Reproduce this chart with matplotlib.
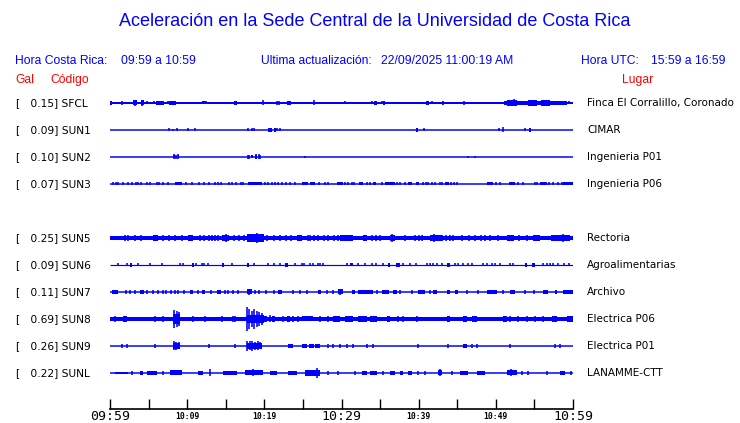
import matplotlib

matplotlib.use("Agg")
import matplotlib.pyplot as plt

W, H = 740, 423
BLUE = "#0000ff"
RED = "#ff0000"

# station table (row 4 is an empty slot, SUN4 is not shown)
codes = ["SFCL", "SUN1", "SUN2", "SUN3", "SUN5", "SUN6", "SUN7", "SUN8", "SUN9", "SUNL"]
gal = [0.15, 0.09, 0.10, 0.07, 0.25, 0.09, 0.11, 0.69, 0.26, 0.22]
places = ["Finca El Corralillo, Coronado", "CIMAR", "Ingenieria P01", "Ingenieria P06",
          "Rectoria", "Agroalimentarias", "Archivo", "Electrica P06", "Electrica P01",
          "LANAMME-CTT"]
rows = [0, 1, 2, 3, 5, 6, 7, 8, 9, 10]

# time axis, minutes after 09:59
tick_minutes = list(range(0, 61, 5))
tick_labels = ["09:59", "", "10:09", "", "10:19", "", "10:29", "", "10:39", "", "10:49", "", "10:59"]
big_labels = ["09:59", "10:29", "10:59"]

# trace sketches: base line width (px),
# bursts (t0, t1, half amplitude px), single spikes (t, half amplitude px)
base_px = [2, 1.5, 1.5, 1.5, 4, 1.2, 1.5, 4, 1.5, 1.5]

SFCL_bands = [(0, 0.3, 2), (3.0, 3.5, 2.5), (4.0, 4.4, 2.5), (6.0, 7.0, 1.8), (7.7, 8.5, 1.8),
              (11.9, 12.5, 1.5), (16.1, 16.4, 1.8), (23.0, 23.5, 1.8), (34.2, 34.6, 1.8),
              (35.4, 35.7, 1.8), (40.9, 41.4, 2), (43.0, 43.2, 1.8), (51.1, 59.2, 2),
              (51.4, 52.7, 3), (54.2, 55.3, 3), (55.9, 57.0, 3)]
SFCL_spikes = [(0.13, 2), (1.52, 2), (3.24, 3), (4.19, 3), (4.75, 1.5), (5.7, 1.5), (7.48, 1.5),
               (8.94, 1), (10.15, 1), (12.0, 1.5), (12.4, 1.5), (12.74, 1), (14.8, 1), (16.2, 2),
               (19.8, 2.5), (21.7, 2), (21.9, 2), (26.5, 2.5), (30.5, 1.5), (31.3, 1), (34.0, 1.5),
               (35.2, 1.5), (40.1, 1), (41.7, 1.5), (43.1, 2), (45.9, 2), (52.3, 3.5), (55.0, 3),
               (56.9, 3), (59.5, 1.5)]

SUN1_bands = [(20.5, 20.95, 2), (21.3, 21.5, 1.8), (39.6, 39.9, 1.8), (54.3, 54.5, 1.8)]
SUN1_spikes = [(7.68, 1.5), (8.2, 1), (8.72, 1.5), (10.15, 1.5), (11.05, 1.5), (17.84, 1.5),
               (18.36, 1.5), (18.7, 1.5), (21.38, 1.5), (21.68, 1.5), (22.07, 1.5), (39.74, 1.5),
               (40.73, 1.5), (50.37, 1.5), (50.89, 2.5), (53.8, 1.5), (54.39, 1.5)]

SUN2_bands = [(8.2, 8.4, 1.5), (8.8, 8.95, 1.5), (18.3, 18.5, 1.5), (18.8, 19.0, 1.8), (19.3, 19.5, 1.5)]
SUN2_spikes = [(8.29, 2.5), (8.51, 2), (8.85, 2.5), (17.84, 2), (18.05, 2), (18.36, 1.5), (18.88, 2.5),
               (19.31, 2.5), (19.48, 2), (25.27, 1), (46.43, 1), (47.34, 1)]

SUN3_bands = [(8.42, 9.37, 1.5), (17.92, 19.66, 1.5), (24.84, 25.7, 1.5), (25.92, 26.57, 1.5),
              (29.37, 30.15, 1.5), (32.31, 32.83, 1.5), (34.04, 34.47, 1.5), (35.64, 36.93, 1.5),
              (38.57, 39.17, 1.5), (39.65, 40.08, 1.5), (43.41, 43.93, 1.5), (48.82, 49.6, 1.5),
              (51.75, 52.49, 1.5), (55.73, 56.6, 1.5), (58.76, 60, 1.5)]
SUN3_blips = [0.43, 0.78, 1.08, 1.72, 2.29, 2.81, 3.33, 3.67, 4.02, 4.75, 5.18, 6.05, 6.35, 6.91, 7.56,
              9.81, 10.58, 11.53, 12.18, 12.83, 13.6, 13.96, 14.38, 15.42, 15.85, 16.33, 16.97, 17.27,
              20.09, 20.51, 20.95, 21.38, 21.74, 22.25, 22.81, 23.33, 23.97, 27.13, 27.86, 28.2, 30.45,
              30.88, 31.32, 31.62, 33.26, 33.69, 35.21, 37.15, 37.57, 38.22, 40.6, 40.91, 41.26, 41.69,
              42.11, 42.76, 42.98, 44.19, 44.62, 45.01, 50.02, 50.54, 52.92, 53.57, 55.08, 55.3, 56.94,
              57.46, 58.11, 58.55]
SUN3_spikes = [(t, 1.5) for t in SUN3_blips]

SUN5_bands = [(5.6, 6.2, 3), (10.15, 10.8, 3), (14.47, 15.42, 3), (17.7, 19.9, 4), (24.2, 24.84, 3),
              (29.8, 31.5, 3), (32.8, 33.3, 3), (36.3, 36.9, 3), (41.5, 43.1, 3), (51.4, 52.3, 3),
              (54.8, 55.7, 3), (57.2, 59.6, 2.8)]
SUN5_blips = [1.94, 2.37, 3.2, 4.0, 6.9, 7.6, 8.42, 9.3, 11.6, 12.2, 12.8, 13.2, 13.6, 14.0, 16.1,
              16.7, 17.4, 20.4, 21.2, 22.0, 22.8, 23.5, 25.6, 25.9, 26.5, 26.9, 27.7, 28.2, 29.0, 29.6,
              33.9, 34.5, 35.0, 38.2, 39.5, 40.0, 40.4, 43.6, 44.1, 44.5, 45.6, 46.5, 47.3, 48.1, 48.6,
              49.2, 50.3, 53.0, 54.1]
SUN5_spikes = [(t, 3) for t in SUN5_blips] + [(19.0, 5), (18.3, 4), (15.0, 4), (36.5, 4), (42.0, 4),
                                             (58.7, 4)]

SUN6_bands = [(2.6, 2.85, 1.8), (10.58, 10.93, 1.8), (14.55, 14.8, 1.8), (17.8, 18.0, 1.8),
              (22.68, 23.11, 1.8), (31.1, 31.54, 1.5), (36.07, 36.29, 1.8), (37.06, 37.58, 1.8),
              (43.63, 44.06, 1.8), (53.78, 54.0, 2), (54.64, 55.08, 1.8)]
SUN6_blips = [1.0, 2.16, 3.67, 5.18, 6.7, 9.07, 9.5, 11.1, 11.88, 12.22, 12.66, 15.85, 18.66, 20.51,
              21.29, 22.03, 23.97, 24.84, 25.18, 25.92, 26.35, 26.92, 27.22, 27.65, 30.67, 32.18, 33.04,
              33.91, 34.47, 35.33, 38.0, 38.87, 39.6, 41.04, 41.47, 41.9, 42.41, 42.98, 44.71, 45.14,
              45.79, 46.43, 46.87, 48.38, 48.82, 49.46, 49.89, 50.54, 51.84, 52.27, 56.15, 56.59, 57.02,
              57.45, 58.1, 58.85, 59.45]
SUN6_spikes = [(t, 1.5) for t in SUN6_blips]

SUN7_bands = [(0.2, 1.08, 1.8), (3.89, 4.45, 1.8), (10.37, 10.8, 1.8), (11.96, 12.31, 1.8),
              (13.82, 14.39, 1.8), (17.71, 18.36, 2.5), (21.81, 22.33, 1.8), (26.9, 27.35, 1.8),
              (29.5, 30.15, 2.5), (31.32, 31.75, 1.8), (32.18, 34.12, 1.8), (35.2, 36.1, 1.8),
              (36.7, 37.15, 1.8), (39.96, 40.82, 1.8), (41.9, 42.33, 1.8), (43.63, 44.06, 1.8),
              (44.71, 45.14, 1.8), (48.8, 50.1, 1.8), (51.83, 52.49, 1.8), (56.07, 56.8, 1.8),
              (57.67, 57.89, 1.8), (58.67, 60, 1.8)]
SUN7_blips = [2.03, 2.59, 3.24, 4.75, 5.62, 6.18, 6.91, 7.26, 7.9, 8.42, 8.85, 9.63, 11.44, 13.09,
              14.9, 15.33, 15.98, 16.55, 18.79, 19.31, 20.22, 21.3, 23.76, 24.62, 25.49, 28.08, 28.94,
              34.6, 37.58, 39.1, 41.47, 46.22, 47.72, 50.97, 53.78, 54.95]
SUN7_spikes = [(t, 1.8) for t in SUN7_blips] + [(18.0, 3), (29.8, 3)]

SUN8_bands = [(1.72, 2.16, 3), (8.2, 9.07, 5), (17.7, 19.9, 4), (20.0, 20.3, 3), (20.95, 21.38, 3),
              (22.89, 23.33, 3), (24.84, 26.35, 2.5), (28.94, 29.8, 3), (30.45, 31.54, 3),
              (32.18, 33.26, 3), (33.7, 34.55, 3), (35.85, 36.28, 3), (43.63, 44.06, 3),
              (45.79, 46.22, 3), (46.87, 47.52, 3), (50.97, 51.4, 3), (57.24, 57.89, 3), (59.18, 60, 3)]
SUN8_blips = [0.65, 5.83, 6.91, 10.8, 12.31, 14.47, 15.98, 16.2, 22.46, 23.76, 24.4, 27.21, 28.3,
              37.36, 38.0, 39.74, 51.83, 52.9, 54.0, 55.07, 56.15]
SUN8_spikes = [(t, 3) for t in SUN8_blips] + [(8.29, 9), (8.64, 8), (8.98, 7), (17.8, 12), (18.05, 10),
                                             (18.36, 8), (18.66, 10), (19.0, 8), (19.35, 7), (19.66, 6),
                                             (20.7, 3.5)]

SUN9_bands = [(8.2, 9.07, 3), (17.7, 19.66, 3), (23.1, 23.76, 1.8), (24.84, 25.5, 1.8),
              (25.8, 26.4, 1.8), (26.6, 27.2, 1.8), (45.79, 46.22, 1.8)]
SUN9_blips = [1.52, 2.16, 5.83, 12.83, 16.2, 28.3, 28.94, 29.8, 30.67, 31.54, 33.26, 34.12, 39.96,
              43.84, 46.87, 47.52, 51.83, 57.67, 58.31]
SUN9_spikes = [(t, 1.8) for t in SUN9_blips] + [(8.3, 4.5), (8.6, 4), (8.95, 3.5), (17.8, 5), (18.1, 4.5),
                                               (18.4, 5), (18.8, 4), (19.2, 4.5), (19.5, 3.5)]

SUNL_bands = [(0.65, 2.37, 1.3), (3.89, 4.32, 1.8), (4.75, 6.05, 1.8), (7.78, 9.29, 2.5),
              (11.44, 12.1, 1.8), (14.68, 16.42, 1.8), (17.5, 19.87, 2.5), (20.73, 21.6, 1.8),
              (23.1, 24.2, 1.8), (25.27, 27.2, 2.8), (32.6, 33.26, 1.8), (33.7, 34.55, 1.8),
              (36.28, 36.93, 1.8), (37.58, 38.0, 1.8), (38.66, 39.1, 1.8), (42.54, 42.98, 2.5),
              (45.35, 46.43, 1.8), (47.52, 48.6, 1.8), (51.4, 52.7, 2.5), (58.31, 58.97, 1.8)]
SUNL_blips = [2.81, 6.91, 28.3, 29.58, 31.75, 35.41, 39.96, 40.82, 44.28, 53.35, 54.21, 56.58, 59.8]
SUNL_spikes = [(t, 1.8) for t in SUNL_blips] + [(13.0, 3.5), (26.78, 5), (18.5, 3.5), (42.7, 3.5),
                                               (52.0, 3.5)]

bands = [SFCL_bands, SUN1_bands, SUN2_bands, SUN3_bands, SUN5_bands, SUN6_bands, SUN7_bands,
         SUN8_bands, SUN9_bands, SUNL_bands]
spikes = [SFCL_spikes, SUN1_spikes, SUN2_spikes, SUN3_spikes, SUN5_spikes, SUN6_spikes, SUN7_spikes,
          SUN8_spikes, SUN9_spikes, SUNL_spikes]

PT = 0.72  # points per pixel at 100 dpi


def fy(py):
    return 1 - py / H


fig = plt.figure(figsize=(W / 100, H / 100), dpi=100)
fig.patch.set_facecolor("white")

# traces: x in minutes, y in pixels from the top
ax = fig.add_axes([110 / W, 0, 463 / W, 1])
ax.set_xlim(0, 60)
ax.set_ylim(H, 0)
ax.axis("off")

for i, code in enumerate(codes):
    y = 103 + 27 * rows[i]
    ax.hlines(y, 0, 60, color=BLUE, lw=base_px[i] * PT)
    for t0, t1, a in bands[i]:
        ax.fill_between([t0, t1], y - a, y + a, color=BLUE, lw=0)
    ts = [s[0] for s in spikes[i]]
    ax.vlines(ts, [y - s[1] for s in spikes[i]], [y + s[1] for s in spikes[i]], color=BLUE, lw=1.6 * PT)

    fig.text(15 / W, fy(y), "[", fontsize=7.7, family="DejaVu Sans", va="center")
    fig.text(27 / W, fy(y), f"{gal[i]:5.2f}] {code}", fontsize=7.7, family="DejaVu Sans", va="center")
    fig.text(587 / W, fy(y), places[i], fontsize=7.5, family="DejaVu Sans", va="center")

# time axis
ax_t = fig.add_axes([110 / W, fy(409), 463 / W, 10 / H])
ax_t.set_xlim(0, 60)
ax_t.set_ylim(0, 1)
for side in ["top", "left", "right"]:
    ax_t.spines[side].set_visible(False)
ax_t.spines["bottom"].set_linewidth(1.2)
ax_t.set_yticks([])
ax_t.set_xticks(tick_minutes, labels=[""] * len(tick_minutes))
ax_t.tick_params(axis="x", direction="in", length=10 * PT, width=1.0)
ax_t.patch.set_alpha(0)
lab_tr = ax_t.get_xaxis_transform()
for t, lab in zip(tick_minutes, tick_labels):
    if not lab:
        continue
    if lab in big_labels:
        ax_t.text(t, -0.75, lab, transform=lab_tr, family="DejaVu Sans Mono", fontsize=9.5,
                  ha="center", va="center", clip_on=False)
    else:
        ax_t.text(t, -0.7, lab, transform=lab_tr, family="DejaVu Sans Mono", fontsize=5.8,
                  fontweight="bold", ha="center", va="center", clip_on=False)

# header
hfont = "Liberation Sans"
hs = 8.7
fig.text(375 / W, fy(22), "Aceleración en la Sede Central de la Universidad de Costa Rica",
         fontsize=13, family=hfont, color=BLUE, ha="center", va="center")
fig.text(15 / W, fy(61), "Hora Costa Rica:", fontsize=hs, family=hfont, color=BLUE, va="center")
fig.text(121 / W, fy(61), "09:59 a 10:59", fontsize=hs, family=hfont, color=BLUE, va="center")
fig.text(261 / W, fy(61), "Ultima actualización:", fontsize=hs, family=hfont, color=BLUE, va="center")
fig.text(381 / W, fy(61), "22/09/2025 11:00:19 AM", fontsize=hs, family=hfont, color=BLUE, va="center")
fig.text(581 / W, fy(61), "Hora UTC:", fontsize=hs, family=hfont, color=BLUE, va="center")
fig.text(651 / W, fy(61), "15:59 a 16:59", fontsize=hs, family=hfont, color=BLUE, va="center")
fig.text(15 / W, fy(80), "Gal", fontsize=hs, family=hfont, color=RED, va="center")
fig.text(50 / W, fy(80), "Código", fontsize=hs, family=hfont, color=RED, va="center")
fig.text(622 / W, fy(80), "Lugar", fontsize=hs, family=hfont, color=RED, va="center")

fig.savefig("out.png", dpi=100)
plt.close(fig)
